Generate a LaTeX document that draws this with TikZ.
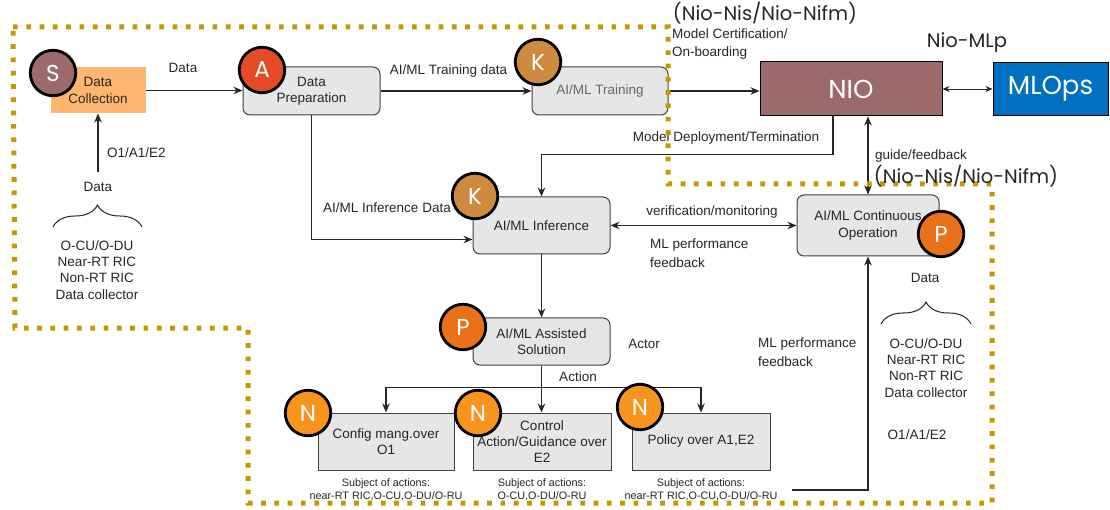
\documentclass[tikz,border=0pt]{standalone}
\usepackage{fontspec}
\setmainfont{Liberation Sans}
\newfontfamily\gfont{Poppins}
\usetikzlibrary{arrows.meta,decorations.pathreplacing,calc}
\definecolor{goldb}{RGB}{196,152,0}
\definecolor{dcfill}{RGB}{255,181,112}
\definecolor{dcdraw}{RGB}{240,190,120}
\definecolor{mauve}{RGB}{156,106,106}
\definecolor{redA}{RGB}{226,75,38}
\definecolor{tanK}{RGB}{206,139,64}
\definecolor{orP}{RGB}{233,113,26}
\definecolor{orN}{RGB}{247,148,30}
\definecolor{blueM}{RGB}{0,112,192}
\definecolor{boxgray}{RGB}{230,230,230}
\newcommand{\mylbl}{\fontsize{13.5}{16.3}\selectfont}
\newcommand{\mysmall}{\fontsize{10.8}{13}\selectfont}
\tikzset{
  box/.style={draw=black!75, fill=boxgray, line width=1, rounded corners=7pt,
    align=center, font=\mylbl, text=black!85, inner sep=2pt},
  sbox/.style={box, rounded corners=0pt},
  letter/.style={circle, draw=black, line width=2.8pt, minimum size=45.5pt,
    inner sep=0pt, text=white, font=\gfont\fontsize{23}{23}\selectfont},
  arr/.style={draw=black!85, line width=1.1pt, -{Stealth[length=9pt,width=7.5pt]}},
  darr/.style={draw=black!85, line width=1.1pt, {Stealth[length=9pt,width=7.5pt]}-{Stealth[length=9pt,width=7.5pt]}},
  lab/.style={font=\mylbl, text=black!85, inner sep=0pt, align=center},
  labl/.style={font=\mylbl, text=black!85, inner sep=0pt, align=left, anchor=west},
  sublab/.style={font=\mysmall, text=black!85, inner sep=0pt, align=center},
  big/.style={font=\gfont\fontsize{19.5}{22}\selectfont, text=black!85, inner sep=0pt},
  bracedec/.style={decorate, decoration={brace, amplitude=22pt}, draw=black!85, line width=1pt},
}
\begin{document}
\begin{tikzpicture}[x=1pt,y=-1pt]
\useasboundingbox[fill=white] (0,0) rectangle (1110,510);

% boxes
\node[sbox, draw=dcdraw, fill=dcfill, minimum width=94pt, minimum height=45pt] (dc) at (98,90.5) {Data\\Collection};
\node[box, minimum width=137pt, minimum height=48pt] (dp) at (311.5,91) {Data\\Preparation};
\node[box, minimum width=136pt, minimum height=48pt, text=black!60] (tr) at (600,91) {AI/ML Training};
\node[sbox, draw=black, fill=mauve, minimum width=182pt, minimum height=54pt, text=white, font=\gfont\fontsize{26}{26}\selectfont] (nio) at (851,89) {NIO};
\node[sbox, draw=black, fill=blueM, minimum width=115pt, minimum height=53pt, text=white, font=\gfont\fontsize{26}{26}\selectfont] (ml) at (1050.5,89) {MLOps};
\node[box, minimum width=137pt, minimum height=57pt] (inf) at (541.5,225.5) {AI/ML Inference};
\node[box, minimum width=142pt, minimum height=61pt] (cont) at (868,225.5) {AI/ML Continuous\\Operation};
\node[box, minimum width=137pt, minimum height=47pt] (ass) at (541.5,341.5) {AI/ML Assisted\\Solution};
\node[sbox, minimum width=136pt, minimum height=57pt] (cfg) at (386,441.5) {Config mang.over\\O1};
\node[sbox, minimum width=138pt, minimum height=57pt] (ctl) at (542,441.5) {Control\\Action/Guidance over\\E2};
\node[sbox, minimum width=138pt, minimum height=57pt] (pol) at (701,441.5) {Policy over A1,E2};

% connectors
\coordinate (src) at (98,172);
\coordinate (fb) at (792,490);
\draw[arr] (src) -- (dc.south);
\draw[arr] (dc.east) -- (dc.east -| dp.west);
\draw[arr] (dp.east) -- (dp.east -| tr.west);
\draw[arr] (tr.east) -- (tr.east -| nio.west);
\draw[draw=black!85, line width=0.9pt, {Stealth[length=7pt,width=6pt]}-{Stealth[length=7pt,width=6pt]}] (nio.east) -- (nio.east -| ml.west);
\draw[arr] ([xshift=-18pt]nio.south) |- ([yshift=42pt]inf.north) -- (inf.north);
\draw[darr] (nio.south -| cont.north) -- (cont.north);
\draw[arr] (dp.south) |- ([yshift=-14pt]inf.west);
\draw[darr] (inf.east) -- (cont.west);
\draw[arr] (inf.south) -- (ass.north);
\coordinate (j) at ($(ass.south)+(0,22)$);
\draw[arr] (ass.south) -- (ass.south |- ctl.north);
\draw[arr] (j) -| (cfg.north);
\draw[arr] (j) -| (pol.north);
\draw[arr] (fb) -| (cont.south);

% braces
\draw[bracedec] (53,227) -- (142,227);
\draw[bracedec] (881,324) -- (971,324);

% labels
\node[lab] at (183,68) {Data};
\node[lab] at (448.5,71) {AI/ML Training data};
\node[labl] at (107,153) {O1/A1/E2};
\node[lab] at (98,187) {Data};
\node[lab] at (97,270) {O-CU/O-DU\\Near-RT RIC\\Non-RT RIC\\Data collector};
\node[lab] at (387,208) {AI/ML Inference Data};
\node[lab] at (712,212) {verification/monitoring};
\node[labl, font=\fontsize{13.5}{19}\selectfont] at (650,253.5) {ML performance\\feedback};
\node[lab] at (644,344) {Actor};
\node[lab] at (578,377) {Action};
\node[labl, font=\fontsize{13.5}{19}\selectfont] at (758,352.5) {ML performance\\feedback};
\node[lab] at (925,278) {Data};
\node[lab] at (926,368) {O-CU/O-DU\\Near-RT RIC\\Non-RT RIC\\Data collector};
\node[lab] at (917,435) {O1/A1/E2};
\node[sublab] at (386,489.5) {Subject of actions:\\near-RT RIC,O-CU,O-DU/O-RU};
\node[sublab] at (542,489.5) {Subject of actions:\\O-CU,O-DU/O-RU};
\node[sublab] at (701,489.5) {Subject of actions:\\near-RT RIC,O-CU,O-DU/O-RU};
\node[lab] at (726,138) {Model Deployment/Termination};
\node[lab] at (921,156) {guide/feedback};

% golden boundary
\draw[goldb, line width=5pt, dash pattern=on 4.7pt off 8.6pt]
  (13,27) -- (668,27) -- (668,184) -- (992,184) -- (992,503) -- (248,503) -- (248,328) -- (15,328) -- cycle;

\node[labl, font=\fontsize{13.5}{18.5}\selectfont] at (672,44) {Model Certification/\\On-boarding};
\node[big] at (765,13) {(Nio-Nis/Nio-Nifm)};
\node[big] at (966,176) {(Nio-Nis/Nio-Nifm)};
\node[big] at (967,43) {Nio-MLp};

% letter badges
\node[letter, fill=mauve] (bS) at (53,73) {S};
\node[letter, fill=redA] (bA) at (262,70) {A};
\node[letter, fill=tanK] (bK1) at (538,62) {K};
\node[letter, fill=tanK] (bK2) at (475,196) {K};
\node[letter, fill=orP] (bP1) at (941,234) {P};
\node[letter, fill=orP] (bP2) at (463,327) {P};
\node[letter, fill=orN] (bN1) at (308,413) {N};
\node[letter, fill=orN] (bN2) at (478,413) {N};
\node[letter, fill=orN] (bN3) at (640,407) {N};
\end{tikzpicture}
\end{document}
